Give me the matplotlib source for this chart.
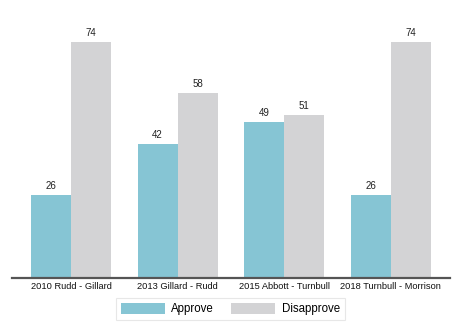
import numpy as np
import matplotlib.pyplot as plt

plt.rcParams['font.family'] = ['Liberation Sans', 'DejaVu Sans']

# leadership change approval (%)
periods = ["2010 Rudd - Gillard", "2013 Gillard - Rudd",
           "2015 Abbott - Turnbull", "2018 Turnbull - Morrison"]
approve = [26, 42, 49, 26]
disapprove = [74, 58, 51, 74]

teal = "#86c5d4"
grey = "#d3d3d5"

fig = plt.figure(figsize=(4.62, 3.36), dpi=100)
ax = fig.add_axes([12/462, 1 - 277.7/336, 438/462, 257.7/336])

x = np.arange(len(periods))
w = 0.376
b1 = ax.bar(x - w/2, approve, w, color=teal, label="Approve")
b2 = ax.bar(x + w/2, disapprove, w, color=grey, label="Disapprove")

for bars, vals in ((b1, approve), (b2, disapprove)):
    for r, v in zip(bars, vals):
        ax.annotate(str(v), (r.get_x() + r.get_width()/2, v),
                    xytext=(0, 3), textcoords="offset points",
                    ha="center", va="bottom", fontsize=7, color="#222222")

ax.set_xlim(-0.555, 3.555)
ax.set_ylim(0, 81.0)
ax.set_xticks(x)
ax.set_xticklabels(periods, fontsize=6.7, color="#111111")
ax.tick_params(axis="x", length=0, pad=3.4)
ax.set_yticks([])
for s in ("top", "right", "left"):
    ax.spines[s].set_visible(False)
ax.spines["bottom"].set_color("#555555")
ax.spines["bottom"].set_linewidth(1.6)

leg = fig.legend(loc="center", bbox_to_anchor=(230.5/462, 1 - 309/336),
                 ncol=2, fontsize=8.3, frameon=True, fancybox=False,
                 handlelength=3.8, handleheight=1.05, columnspacing=1.5,
                 handletextpad=0.6, borderpad=0.4)
leg.get_frame().set_edgecolor("#e2e2e2")
leg.get_frame().set_linewidth(0.8)

fig.savefig("out.png", dpi=100)
